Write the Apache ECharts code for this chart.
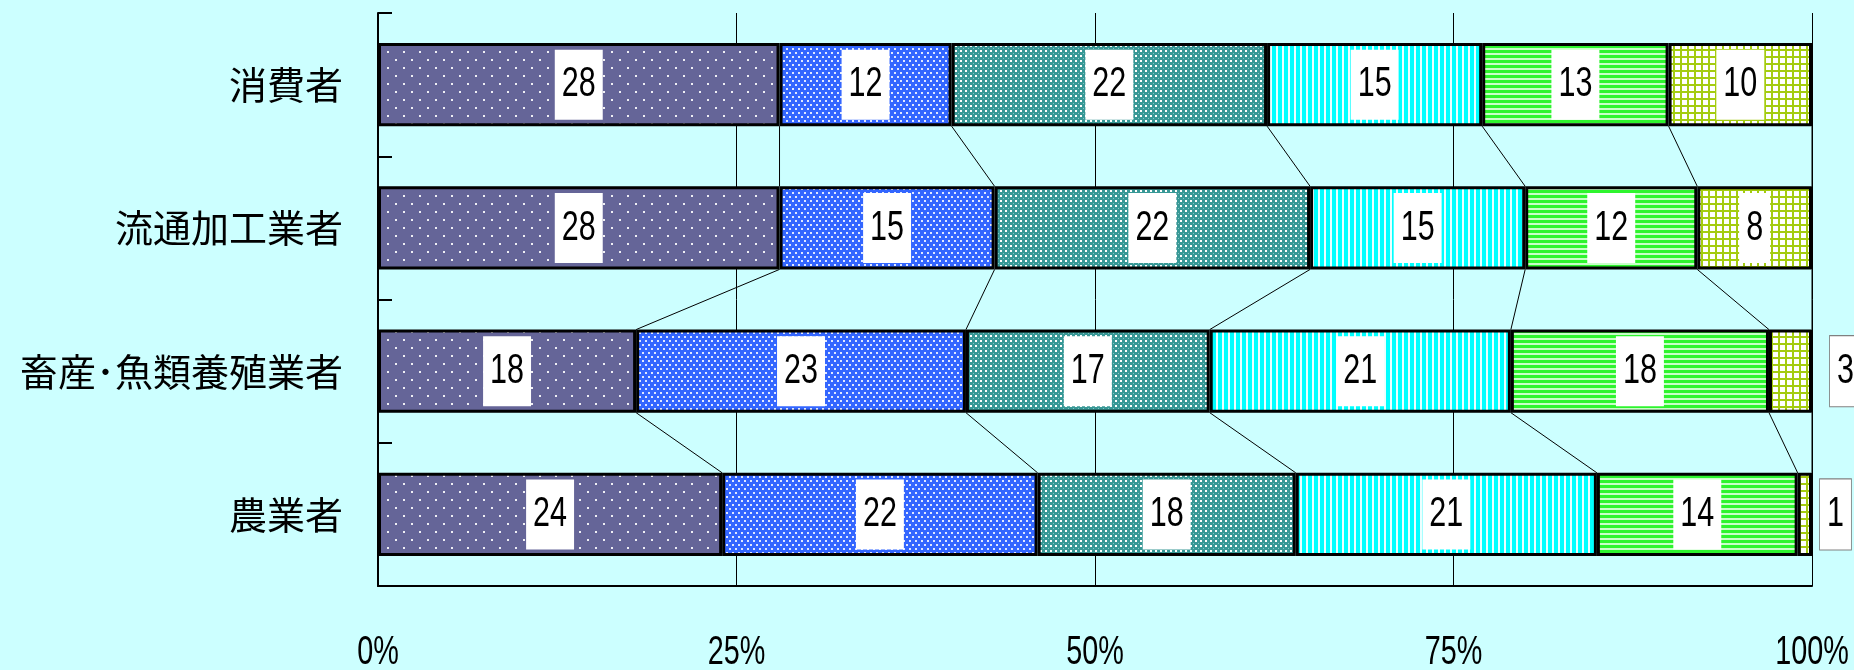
<!DOCTYPE html>
<html>
<head>
<meta charset="utf-8">
<script src="https://cdn.jsdelivr.net/npm/echarts@6/dist/echarts.min.js"></script>
<style>
  html, body { margin: 0; padding: 0; background: #ccffff; }
  #chart { width: 1854px; height: 670px; }
</style>
</head>
<body>
<div id="chart"></div>
<script>
// Rows, top to bottom
const categories = ['消費者', '流通加工業者', '畜産･魚類養殖業者', '農業者'];

// Share (%) of each answer group per row
const group1 = [28, 28, 18, 24];
const group2 = [12, 15, 23, 22];
const group3 = [22, 22, 17, 18];
const group4 = [15, 15, 21, 21];
const group5 = [13, 12, 18, 14];
const group6 = [10, 8, 3, 1];

// Percent axis ticks
const tickValues = [0, 25, 50, 75, 100];

const LATIN = "'Liberation Sans', Arial, sans-serif";
const CJK = "'Noto Sans CJK JP', 'Noto Sans CJK SC', sans-serif";
const BAR_RATIO = 0.58;      // bar thickness / category band
const SQUEEZE = 0.71;        // horizontal squeeze for the narrow numerals
const LABEL_SIZE = 43;
const DIGIT_EM = 0.556;      // Liberation Sans figure advance

// Tiled fill patterns drawn on small canvases
function pattern(w, h, draw) {
  const c = document.createElement('canvas');
  c.width = w; c.height = h;
  draw(c.getContext('2d'));
  return { image: c, repeat: 'repeat' };
}

const fills = [
  // slate with sparse white dots
  pattern(16, 16, (ctx) => {
    ctx.fillStyle = '#656598'; ctx.fillRect(0, 0, 16, 16);
    ctx.fillStyle = 'rgba(255,255,255,0.9)';
    ctx.fillRect(3, 3, 2, 2); ctx.fillRect(11, 11, 2, 2);
  }),
  // blue with dense white dots
  pattern(6, 8, (ctx) => {
    ctx.fillStyle = '#3366ff'; ctx.fillRect(0, 0, 6, 8);
    ctx.fillStyle = 'rgba(255,255,255,0.85)';
    ctx.fillRect(0, 0, 2, 2); ctx.fillRect(3, 4, 2, 2);
  }),
  // teal fine check
  pattern(5, 5, (ctx) => {
    ctx.fillStyle = '#389896'; ctx.fillRect(0, 0, 5, 5);
    ctx.fillStyle = '#ffffff'; ctx.fillRect(0, 0, 2, 2);
    ctx.fillStyle = '#86c9c7'; ctx.fillRect(3, 3, 1, 1);
  }),
  // cyan vertical stripes
  pattern(6, 4, (ctx) => {
    ctx.fillStyle = '#00ffff'; ctx.fillRect(0, 0, 6, 4);
    ctx.fillStyle = '#eaffff'; ctx.fillRect(4, 0, 2, 4);
  }),
  // green horizontal stripes
  pattern(4, 5, (ctx) => {
    ctx.fillStyle = '#2ef52e'; ctx.fillRect(0, 0, 4, 5);
    ctx.fillStyle = '#c8ffc8'; ctx.fillRect(0, 3, 4, 2);
  }),
  // yellow-green grid
  pattern(7, 7, (ctx) => {
    ctx.fillStyle = '#ffffff'; ctx.fillRect(0, 0, 7, 7);
    ctx.fillStyle = '#a4cc10';
    ctx.fillRect(0, 0, 2, 7); ctx.fillRect(0, 0, 7, 2);
  })
];

const groups = [group1, group2, group3, group4, group5, group6];

// Labels of very thin segments sit just past the bar end (gap per row, px)
const outsideGap = { 2: 18, 3: 8 };

const barSeries = groups.map((vals, gi) => ({
  type: 'bar',
  stack: 'total',
  barCategoryGap: '42%',
  z: 2,
  itemStyle: { color: fills[gi], borderColor: '#000', borderWidth: 3 },
  data: vals
}));

// Running totals per row: segment boundaries
const cumulative = categories.map((_, ri) => {
  let s = 0;
  return groups.map(g => (s += g[ri]));
});

// Connector lines between matching segment boundaries of adjacent rows
const connectors = [];
for (let r = 0; r < categories.length - 1; r++) {
  for (let k = 0; k < groups.length; k++) {
    connectors.push([cumulative[r][k], cumulative[r + 1][k], r]);
  }
}

const connectorSeries = {
  type: 'custom',
  coordinateSystem: 'cartesian2d',
  encode: { x: [0, 1], y: 2 },
  silent: true,
  z: 1,
  renderItem: (params, api) => {
    const r = api.value(2);
    const p1 = api.coord([api.value(0), r]);
    const p2 = api.coord([api.value(1), r + 1]);
    const half = api.size([0, 1])[1] * BAR_RATIO / 2;
    return {
      type: 'line',
      shape: { x1: p1[0], y1: p1[1] + half, x2: p2[0], y2: p2[1] - half },
      style: { stroke: '#000', lineWidth: 1 }
    };
  },
  data: connectors
};

// Value boxes: [segment centre, row, value, segment end]
const labelItems = [];
groups.forEach((g, gi) => {
  g.forEach((v, ri) => {
    const end = cumulative[ri][gi];
    labelItems.push([end - v / 2, ri, v, end]);
  });
});

const labelSeries = {
  type: 'custom',
  coordinateSystem: 'cartesian2d',
  encode: { x: [0, 3], y: 1 },
  silent: true,
  clip: false,
  z: 5,
  renderItem: (params, api) => {
    const r = api.value(1);
    const v = api.value(2);
    const text = String(v);
    const outside = v < 5;
    const boxW = text.length * DIGIT_EM * LABEL_SIZE * SQUEEZE + 14;
    let x, y;
    if (outside) {
      const p = api.coord([api.value(3), r]);
      x = p[0] + (outsideGap[r] != null ? outsideGap[r] : 10) + boxW / 2;
      y = p[1];
    } else {
      const p = api.coord([api.value(0), r]);
      x = p[0]; y = p[1];
    }
    return {
      type: 'text',
      x: x, y: y,
      scaleX: SQUEEZE,
      style: {
        text: text,
        fontFamily: LATIN,
        fontSize: LABEL_SIZE,
        fill: '#000',
        align: 'center',
        verticalAlign: 'middle',
        lineHeight: 70,
        padding: [0, 7 / SQUEEZE],
        backgroundColor: '#ffffff',
        borderColor: outside ? '#808080' : null,
        borderWidth: outside ? 1.2 : 0
      }
    };
  },
  data: labelItems
};

// Percent labels under the axis
const tickSeries = {
  type: 'custom',
  coordinateSystem: 'cartesian2d',
  encode: { x: 0, y: 1 },
  silent: true,
  clip: false,
  z: 5,
  renderItem: (params, api) => {
    const lastRow = categories.length - 1;
    const p = api.coord([api.value(0), lastRow]);
    const bottom = p[1] + api.size([0, 1])[1] / 2;
    return {
      type: 'text',
      x: p[0], y: bottom + 67,
      scaleX: 0.72,
      style: {
        text: api.value(0) + '%',
        fontFamily: LATIN,
        fontSize: 40,
        fill: '#000',
        align: 'center',
        verticalAlign: 'middle'
      }
    };
  },
  data: tickValues.map(v => [v, categories.length - 1])
};

const chart = echarts.init(document.getElementById('chart'), null, { renderer: 'canvas' });
chart.setOption({
  animation: false,
  backgroundColor: '#ccffff',
  grid: { left: 378, right: 42, top: 13, bottom: 84, containLabel: false, outerBoundsMode: 'none' },
  xAxis: {
    type: 'value',
    min: tickValues[0],
    max: tickValues[tickValues.length - 1],
    interval: tickValues[1] - tickValues[0],
    axisLine: { show: true, lineStyle: { color: '#000', width: 2 } },
    axisTick: { show: false },
    axisLabel: { show: false },
    splitLine: { show: true, lineStyle: { color: '#000', width: 1 } }
  },
  yAxis: {
    type: 'category',
    inverse: true,
    data: categories,
    axisLine: { show: true, lineStyle: { color: '#000', width: 2 } },
    axisTick: { show: true, inside: true, length: 14, lineStyle: { color: '#000', width: 2 } },
    axisLabel: {
      color: '#000',
      fontFamily: CJK,
      fontSize: 38,
      margin: 35
    }
  },
  series: [...barSeries, connectorSeries, labelSeries, tickSeries]
});
</script>
</body>
</html>
